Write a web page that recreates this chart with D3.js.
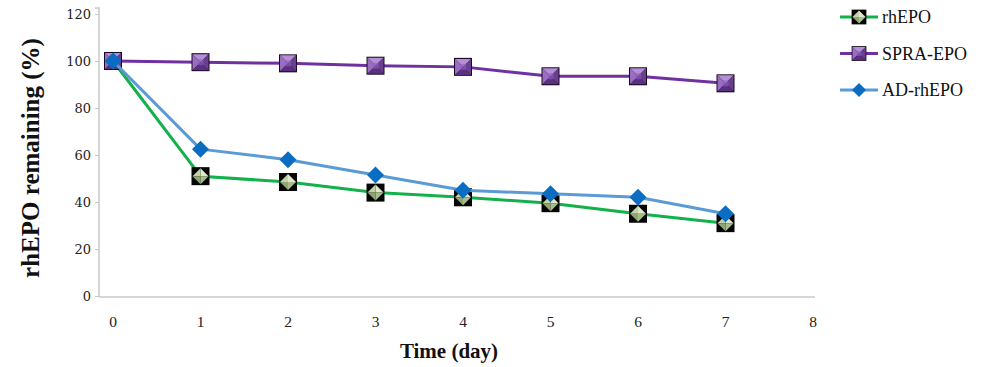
<!DOCTYPE html>
<html><head><meta charset="utf-8">
<script src="https://cdn.jsdelivr.net/npm/d3@7"></script>
<style>body{margin:0;background:#fff}svg{display:block}</style>
</head><body><svg id="c" width="1000" height="367"></svg>
<script>
const days = [0,1,2,3,4,5,6,7];
const rhEPO = [100,51,48.5,44,42,39.5,35,31];
const spraEPO = [100,99.5,99,98,97.5,93.5,93.5,90.5];
const adRhEPO = [100,62.5,58,51.5,45,43.5,42,35];
const seriesNames = ["rhEPO","SPRA-EPO","AD-rhEPO"];
const xTicks = [0,1,2,3,4,5,6,7,8];
const yTicks = [0,20,40,60,80,100,120];

const svg = d3.select("#c");
const x = d3.scaleLinear().domain([0,8]).range([113,813]);
const y = d3.scaleLinear().domain([0,120]).range([296,14]);
const axisX = 99;

// y axis
const ya = svg.append("g").attr("transform",`translate(${axisX},0)`)
  .call(d3.axisLeft(y).tickValues(yTicks).tickSize(4).tickPadding(4).tickFormat(d3.format("d")));
ya.select(".domain").attr("stroke","#c8c8c8").attr("stroke-width",1.5).attr("d",`M-4,${y(120)-6}H0V${y(0)+1}`);
ya.selectAll(".tick line").attr("stroke","#c8c8c8");
ya.selectAll(".tick text").attr("font-family","DejaVu Serif").attr("font-size",13).attr("fill","#222");

// x axis line
svg.append("line").attr("x1",axisX).attr("x2",815).attr("y1",y(0)+1).attr("y2",y(0)+1)
  .attr("stroke","#c8c8c8").attr("stroke-width",1.5);
svg.append("g").selectAll("text").data(xTicks).join("text")
  .attr("x",d=>x(d)).attr("y",327).attr("text-anchor","middle")
  .attr("font-family","Liberation Serif").attr("font-size",15.5).attr("fill","#222").text(d=>d);

// titles
svg.append("text").attr("transform","translate(39,158) rotate(-90)").attr("text-anchor","middle")
  .attr("font-family","Liberation Serif").attr("font-weight","bold").attr("font-size",25).attr("fill","#111")
  .text("rhEPO remaining (%)");
svg.append("text").attr("x",449).attr("y",358).attr("text-anchor","middle")
  .attr("font-family","Liberation Serif").attr("font-weight","bold").attr("font-size",21).attr("fill","#111")
  .text("Time (day)");

// marker drawers
function markGreen(g){
  g.append("rect").attr("x",-9).attr("y",-9).attr("width",18).attr("height",18).attr("fill","#050505");
  const r=8;
  g.append("polygon").attr("points",`0,-${r} ${r},0 0,0`).attr("fill","#dfe8cf");
  g.append("polygon").attr("points",`0,-${r} -${r},0 0,0`).attr("fill","#c3d3a8");
  g.append("polygon").attr("points",`-${r},0 0,${r} 0,0`).attr("fill","#8fa572");
  g.append("polygon").attr("points",`${r},0 0,${r} 0,0`).attr("fill","#a9bc8c");
}
function markPurple(g){
  const s=8, i=3;
  g.append("rect").attr("x",-s-1).attr("y",-s-1).attr("width",2*s+2).attr("height",2*s+2).attr("fill","#1a0a24");
  g.append("polygon").attr("points",`-${s},-${s} ${s},-${s} 0,0`).attr("fill","#b48fd6");
  g.append("polygon").attr("points",`-${s},-${s} -${s},${s} 0,0`).attr("fill","#9a6cc4");
  g.append("polygon").attr("points",`${s},-${s} ${s},${s} 0,0`).attr("fill","#6a3f92");
  g.append("polygon").attr("points",`-${s},${s} ${s},${s} 0,0`).attr("fill","#5a3180");
  g.append("rect").attr("x",-i).attr("y",-i).attr("width",2*i).attr("height",2*i).attr("fill","#8f60bd").attr("opacity",0.6);
}
function markBlue(g){
  const r=8.5;
  g.append("polygon").attr("points",`0,-${r} ${r},0 0,${r} -${r},0`).attr("fill","#0a6dc2");
}

const series = [
  {name:seriesNames[0], vals:rhEPO, color:"#14b04c", mark:markGreen},
  {name:seriesNames[1], vals:spraEPO, color:"#7030a0", mark:markPurple},
  {name:seriesNames[2], vals:adRhEPO, color:"#5b9bd5", mark:markBlue}
];
const line = d3.line().x((d,i)=>x(days[i])).y(d=>y(d));
series.forEach(s=>{
  const g = svg.append("g");
  g.append("path").attr("d",line(s.vals)).attr("fill","none").attr("stroke",s.color).attr("stroke-width",3).attr("stroke-linejoin","round");
  s.vals.forEach((v,i)=>{
    const m = g.append("g").attr("transform",`translate(${x(days[i])},${y(v)})`);
    s.mark(m);
  });
});

// legend
const leg = svg.append("g");
series.forEach((s,i)=>{
  const cy = 17 + i*36.5;
  leg.append("line").attr("x1",840).attr("x2",878).attr("y1",cy).attr("y2",cy).attr("stroke",s.color).attr("stroke-width",3);
  const m = leg.append("g").attr("transform",`translate(859,${cy}) scale(0.82)`);
  s.mark(m);
  leg.append("text").attr("x",882).attr("y",cy+6).attr("font-family","Liberation Serif").attr("font-size",18).attr("fill","#111").text(s.name);
});
</script></body></html>
